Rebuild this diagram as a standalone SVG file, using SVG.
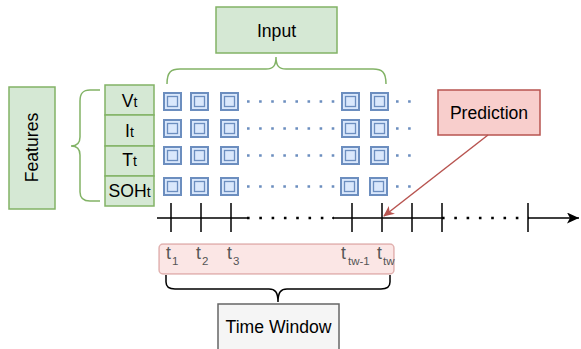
<svg xmlns="http://www.w3.org/2000/svg" width="581" height="349" viewBox="0 0 581 349">
<style>
text{font-family:"Liberation Sans",Arial,sans-serif;fill:#000}
.g{fill:#d5e8d4;stroke:#82b366;stroke-width:1.5}
.lbl{font-size:17.6px;text-anchor:middle}
.sq{fill:#dae8fc;stroke:#6c8ebf;stroke-width:2}
.sqi{fill:#dae8fc;stroke:#6c8ebf;stroke-width:1.3}
.bd{stroke:#6c8ebf;stroke-width:2.6;stroke-dasharray:2.6 9.5;fill:none}
.kd{stroke:#000;stroke-width:2.6;stroke-dasharray:2.6 9.7;fill:none}
.ax{stroke:#000;stroke-width:1.5;fill:none}
.tk{stroke:#000;stroke-width:1.5}
.tl{font-size:17.6px;fill:#555}
.ts{font-size:11.5px;fill:#555}
</style>
<defs>
<symbol id="cell" overflow="visible">
<rect class="sq" x="1" y="1" width="17" height="17"/>
<rect class="sqi" x="4.5" y="4.5" width="10" height="10"/>
</symbol>
<marker id="ka" markerWidth="14" markerHeight="12" refX="12" refY="5.5" orient="auto" markerUnits="userSpaceOnUse">
<path d="M0,0 L12,5.5 L0,11 L3,5.5 Z" fill="#000"/>
</marker>
<marker id="ra" markerWidth="12" markerHeight="12" refX="10" refY="5" orient="auto" markerUnits="userSpaceOnUse">
<path d="M0,0 L11,5 L0,10 L3,5 Z" fill="#b85450"/>
</marker>
</defs>

<g id="input">
<rect class="g" x="216" y="7" width="121" height="46"/>
<text class="lbl" x="276.5" y="37">Input</text>
</g>

<g id="features">
<rect class="g" x="9" y="87" width="46" height="122"/>
<text class="lbl" transform="translate(38,147.5) rotate(-90)" x="0" y="0">Features</text>
</g>

<g id="feature-cells">
<rect class="g" x="105" y="85" width="49" height="30"/>
<rect class="g" x="105" y="115" width="49" height="31"/>
<rect class="g" x="105" y="146" width="49" height="30"/>
<rect class="g" x="105" y="176" width="49" height="30"/>
<text class="lbl" x="129.5" y="106.5">V<tspan font-size="14">t</tspan></text>
<text class="lbl" x="129.5" y="136.5">I<tspan font-size="14">t</tspan></text>
<text class="lbl" x="129.5" y="166">T<tspan font-size="14">t</tspan></text>
<text class="lbl" x="129.5" y="196.5">SOH<tspan font-size="14">t</tspan></text>
</g>

<g id="prediction">
<rect x="438" y="90" width="102" height="45" fill="#f8cecc" stroke="#b85450" stroke-width="1.5"/>
<text class="lbl" x="489" y="119">Prediction</text>
</g>

<g id="time-labels">
<rect x="159" y="244" width="235" height="30" rx="4" fill="#f8cecc" fill-opacity="0.5" stroke="#b85450" stroke-opacity="0.4" stroke-width="1.5"/>
<text class="tl" x="166" y="259">t</text><text class="ts" x="172" y="265">1</text>
<text class="tl" x="196" y="259">t</text><text class="ts" x="202" y="265">2</text>
<text class="tl" x="227" y="259">t</text><text class="ts" x="233" y="265" font-size="9">3</text>
<text class="tl" x="341" y="259">t</text><text class="ts" x="348" y="265">tw-1</text>
<text class="tl" x="377" y="259">t</text><text class="ts" x="383" y="265">tw</text>
</g>

<g id="time-window">
<rect x="218" y="304" width="121" height="50" fill="#f5f5f5" stroke="#666" stroke-width="1.5"/>
<text class="lbl" x="278.5" y="333">Time Window</text>
</g>

<g id="grid">
<use href="#cell" x="163" y="92"/><use href="#cell" x="190" y="92"/><use href="#cell" x="220" y="92"/><use href="#cell" x="341" y="92"/><use href="#cell" x="370" y="92"/>
<use href="#cell" x="163" y="119"/><use href="#cell" x="190" y="119"/><use href="#cell" x="220" y="119"/><use href="#cell" x="341" y="119"/><use href="#cell" x="370" y="119"/>
<use href="#cell" x="163" y="146"/><use href="#cell" x="190" y="146"/><use href="#cell" x="220" y="146"/><use href="#cell" x="341" y="146"/><use href="#cell" x="370" y="146"/>
<use href="#cell" x="163" y="177"/><use href="#cell" x="190" y="177"/><use href="#cell" x="220" y="177"/><use href="#cell" x="340" y="177"/><use href="#cell" x="369" y="177"/>
<path class="bd" d="M247,101.5 H336 M396,101.5 H412 M247,128.5 H336 M396,128.5 H412 M247,155.5 H336 M396,155.5 H412 M247,186.5 H336 M396,186.5 H412"/>
</g>

<g id="connectors">
<path d="M167,84 C167,72 171,69 180,69 L266,69 C273,69 276,66 276,57 C276,66 279,69 286,69 L373,69 C382,69 386,72 386,84" fill="none" stroke="#82b366" stroke-width="1.5"/>
<path d="M100,90 L90,90 C83,90 80,93 80,101 L80,137 C80,143 77,146 71,146 C77,146 80,149 80,155 L80,192 C80,198 83,201 90,201 L100,201" fill="none" stroke="#82b366" stroke-width="1.5"/>
<path d="M166,275 L166,282 C166,287 169,289 175,289 L269,289 C275,289 278,292 278,302 C278,292 281,289 287,289 L381,289 C387,289 390,287 390,282 L390,275" fill="none" stroke="#000" stroke-width="1.5"/>
<path class="ax" d="M157,218 H247 M332,218 H442 M528,218 H579" marker-end="url(#ka)"/>
<path class="kd" d="M247,218 H334 M442,218 H529"/>
<path class="tk" d="M171,203 V232 M201,203 V232 M231,203 V232 M352,203 V232 M382,203 V232 M412,203 V232 M442,203 V232 M528,203 V232"/>
<path d="M488,135 L384,216" stroke="#b85450" stroke-width="1.5" fill="none" marker-end="url(#ra)"/>
</g>
</svg>
